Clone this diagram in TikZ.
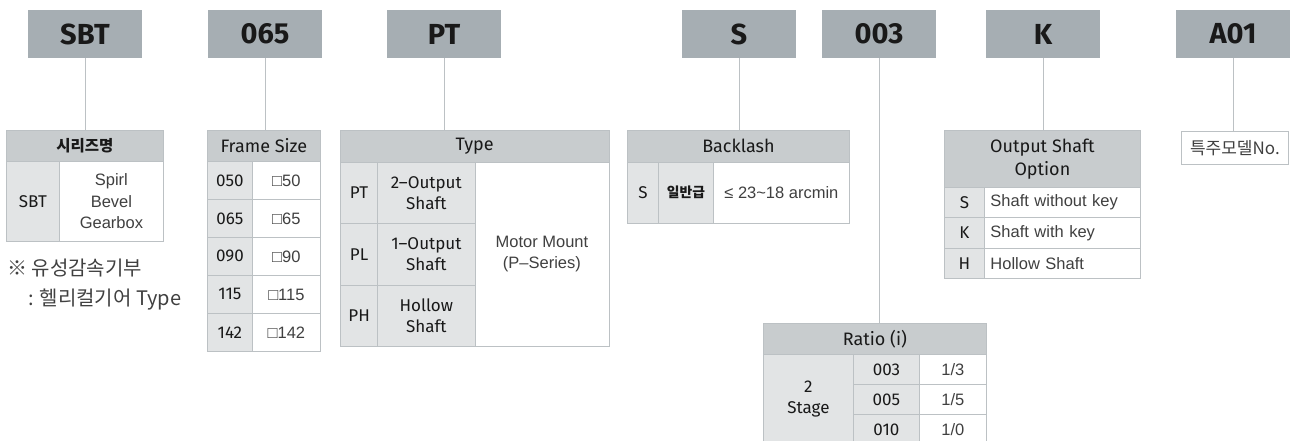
\documentclass[tikz,border=0pt]{standalone}
\usepackage{fontspec}
\usepackage{xcolor}
\setmainfont{Liberation Sans}
\newfontfamily\dinfont{Fira Sans}
\newfontfamily\krfont{Noto Sans CJK KR}
\usetikzlibrary{positioning}

\definecolor{codegray}{HTML}{A6AEB3}
\definecolor{headgray}{HTML}{C8CCCE}
\definecolor{keygray}{HTML}{E2E4E5}
\definecolor{rulegray}{HTML}{BCC1C4}
\definecolor{inkgray}{HTML}{404040}

\tikzset{
  codebox/.style={fill=codegray, minimum width=114pt, minimum height=48pt, inner sep=0pt,
    font=\dinfont\bfseries\fontsize{29}{29}\selectfont, text=black!90},
  basecell/.style 2 args={draw=rulegray, line width=0.8pt, anchor=north west, inner sep=0pt,
    align=center, minimum width=#1pt, minimum height=#2pt},
  headcell/.style 2 args={basecell={#1}{#2}, fill=headgray, text=black!90,
    font=\dinfont\fontsize{18}{23}\selectfont},
  keycell/.style 2 args={basecell={#1}{#2}, fill=keygray, text=black!90,
    font=\dinfont\fontsize{17}{21}\selectfont},
  desccell/.style 2 args={basecell={#1}{#2}, fill=white, text=inkgray,
    font=\fontsize{16.5}{21.5}\selectfont},
  note/.style={anchor=west, inner sep=0pt, text=inkgray, font=\krfont\fontsize{20}{20}\selectfont},
  link/.style={draw=rulegray, line width=0.8pt},
}

\begin{document}
\begin{tikzpicture}[x=1pt, y=-1pt]
  \useasboundingbox (0,0) rectangle (1295,440);

  % code boxes
  \node[codebox] (sbt)     at (85,34)   {SBT};
  \node[codebox] (size)    at (265,34)  {065};
  \node[codebox] (type)    at (444,34)  {PT};
  \node[codebox] (blash)   at (739,34)  {S};
  \node[codebox] (ratio)   at (879,34)  {003};
  \node[codebox] (shaft)   at (1043,34) {K};
  \node[codebox] (special) at (1233,34) {A01};

  % series
  \node[headcell={157}{31}, font=\krfont\bfseries\fontsize{15.5}{16}\selectfont] (serhead) at (6,130) {시리즈명};
  \node[keycell={53}{80}]   (serkey)  at (6,161)  {SBT};
  \node[desccell={104}{80}] (serdesc) at (59,161) {Spirl\\Bevel\\Gearbox};
  \node[note] (note1) at (7,268)  {※ 유성감속기부};
  \node[note] (note2) at (28,300) {: 헬리컬기어 Type};

  % frame size
  \node[headcell={113}{31}] (sizehead) at (207,130) {Frame Size};
  \foreach \code/\side [count=\i from 0] in {050/50,065/65,090/90,115/115,142/142} {
    \node[keycell={45}{38}]  (sizekey\i)  at (207,161+38*\i) {\code};
    \node[desccell={68}{38}] (sizedesc\i) at (252,161+38*\i) {□\side};
  }

  % type
  \node[headcell={268.5}{31.5}] (typehead) at (340,130) {Type};
  \foreach \code/\name [count=\i from 0] in {PT/2–Output\\Shaft,PL/1–Output\\Shaft,PH/Hollow\\Shaft} {
    \node[keycell={37.4}{61.5}] (typekey\i)  at (340,161.5+61.5*\i)   {\code};
    \node[keycell={97.1}{61.5}] (typename\i) at (377.4,161.5+61.5*\i) {\name};
  }
  \node[desccell={134}{184.5}] (typedesc) at (474.5,161.5) {Motor Mount\\(P–Series)};

  % backlash
  \node[headcell={222}{31.5}] (blhead) at (627,130) {Backlash};
  \node[keycell={31}{61}] (blkey) at (627,161.5) {S};
  \node[keycell={55}{61}, font=\krfont\bfseries\fontsize{13.8}{14}\selectfont] (blgrade) at (658,161.5) {일반급};
  \node[desccell={136}{61}] (bldesc) at (713,161.5) {≤ 23\textasciitilde 18 arcmin};

  % ratio
  \node[headcell={223}{31}] (rathead) at (763,323) {Ratio (i)};
  \node[keycell={90}{90}] (ratstage) at (763,354) {2\\Stage};
  \foreach \code/\num/\den [count=\i from 0] in {003/1/3,005/1/5,010/1/0} {
    \node[keycell={66}{30}]  (ratkey\i) at (853,354+30*\i) {\code};
    \node[desccell={67}{30}] (ratval\i) at (919,354+30*\i) {\num/\den};
  }

  % output shaft
  \node[headcell={196}{57}] (shafthead) at (944,130) {Output Shaft\\Option};
  \foreach \code/\name [count=\i from 0] in {S/Shaft without key,K/Shaft with key,H/Hollow Shaft} {
    \node[keycell={40}{30.3}] (shaftkey\i) at (944,187+30.3*\i) {\code};
    \node[desccell={156}{30.3}, text width=144pt, inner xsep=6pt, align=left] (shaftdesc\i) at (984,187+30.3*\i) {\name};
  }

  % special model
  \node[basecell={107}{33}, fill=white, text=inkgray, font=\krfont\fontsize{17}{17}\selectfont] (spbox) at (1181,131) {특주모델No.};

  \foreach \code/\table in {sbt/serhead,size/sizehead,type/typehead,blash/blhead,ratio/rathead,shaft/shafthead,special/spbox}
    \draw[link] (\code.south) -- (\code.south |- \table.north);
\end{tikzpicture}
\end{document}
